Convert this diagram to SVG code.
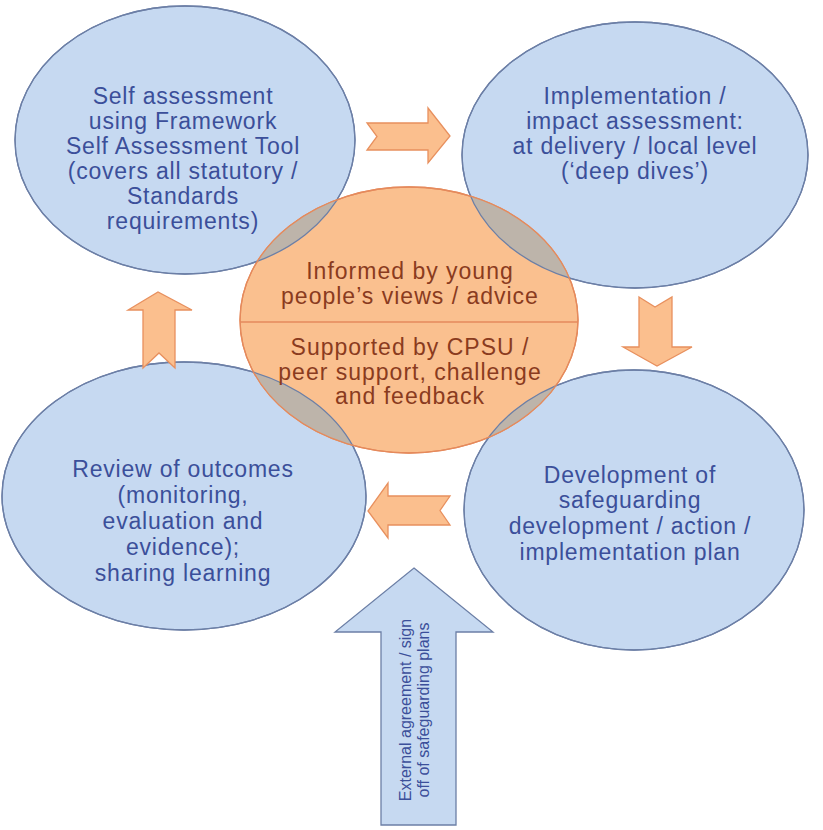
<svg xmlns="http://www.w3.org/2000/svg" width="823" height="830" viewBox="0 0 823 830">
<defs>
<style>
.blue{fill:#c6d9f1;stroke:#6c7fa6;stroke-width:1.3}
.bline{fill:none;stroke:#6c7fa6;stroke-width:1.3}
.gray{fill:#bdb4aa;stroke:none}
.orange{fill:#fac08f;stroke:#e58a5c;stroke-width:1.3}
.arrow{fill:#fbbf8e;stroke:#e8905e;stroke-width:1.3;stroke-linejoin:miter}
.bigarrow{fill:#c6d9f1;stroke:#6c7fa6;stroke-width:1.3}
.bt{font-family:"Liberation Sans",Arial,sans-serif;font-size:23px;letter-spacing:0.8px;fill:#3b4f9a;text-anchor:middle}
.ot{font-family:"Liberation Sans",Arial,sans-serif;font-size:23px;letter-spacing:1px;fill:#8a3b1e;text-anchor:middle}
.st{font-family:"Liberation Sans",Arial,sans-serif;font-size:16px;fill:#3b4f9a;text-anchor:middle}
</style>
<clipPath id="oc"><ellipse cx="409" cy="320" rx="169" ry="133"/></clipPath>
</defs>
<rect width="823" height="830" fill="#ffffff"/>
<g id="node-self-assessment"><ellipse class="blue" cx="185" cy="140" rx="170" ry="134"/></g>
<g id="node-implementation"><ellipse class="blue" cx="635" cy="155" rx="173" ry="133"/></g>
<g id="node-review"><ellipse class="blue" cx="184" cy="496" rx="182" ry="134"/></g>
<g id="node-development"><ellipse class="blue" cx="634" cy="510" rx="170" ry="140"/></g>
<g id="node-centre">
<ellipse class="orange" cx="409" cy="320" rx="169" ry="133"/>
<g clip-path="url(#oc)">
<ellipse class="gray" cx="185" cy="140" rx="170" ry="134"/>
<ellipse class="gray" cx="635" cy="155" rx="173" ry="133"/>
<ellipse class="gray" cx="184" cy="496" rx="182" ry="134"/>
<ellipse class="gray" cx="634" cy="510" rx="170" ry="140"/>
</g>
<ellipse class="bline" cx="185" cy="140" rx="170" ry="134"/>
<ellipse class="bline" cx="635" cy="155" rx="173" ry="133"/>
<ellipse class="bline" cx="184" cy="496" rx="182" ry="134"/>
<ellipse class="bline" cx="634" cy="510" rx="170" ry="140"/>
<ellipse cx="409" cy="320" rx="169" ry="133" fill="none" stroke="#e58a5c" stroke-width="1.3"/>
<line x1="240" y1="322" x2="578" y2="322" stroke="#e58a5c" stroke-width="1.3"/>
<text class="ot" x="410" y="279">Informed by young</text>
<text class="ot" x="410" y="304">people’s views / advice</text>
<text class="ot" x="410" y="355">Supported by CPSU /</text>
<text class="ot" x="410" y="380">peer support, challenge</text>
<text class="ot" x="410" y="404">and feedback</text>
</g>
<g id="labels">
<text class="bt" x="183" y="104">Self assessment</text>
<text class="bt" x="183" y="129">using Framework</text>
<text class="bt" x="183" y="154">Self Assessment Tool</text>
<text class="bt" x="183" y="179">(covers all statutory /</text>
<text class="bt" x="183" y="204">Standards</text>
<text class="bt" x="183" y="229">requirements)</text>
<text class="bt" x="635" y="104">Implementation /</text>
<text class="bt" x="635" y="129">impact assessment:</text>
<text class="bt" x="635" y="154">at delivery / local level</text>
<text class="bt" x="635" y="179">(‘deep dives’)</text>
<text class="bt" x="183" y="477">Review of outcomes</text>
<text class="bt" x="183" y="503">(monitoring,</text>
<text class="bt" x="183" y="529">evaluation and</text>
<text class="bt" x="183" y="555">evidence);</text>
<text class="bt" x="183" y="581">sharing learning</text>
<text class="bt" x="630" y="483">Development of</text>
<text class="bt" x="630" y="508">safeguarding</text>
<text class="bt" x="630" y="534">development / action /</text>
<text class="bt" x="630" y="560">implementation plan</text>
</g>
<g id="connectors">
<polygon class="arrow" points="367,123 428,123 428,108 450,136 428,163 428,150 367,150 377,136.5"/>
<polygon class="arrow" points="639,297 655,307 672,297 672,347 692,347 657,366 623,347 639,347"/>
<polygon class="arrow" points="450,496 388,496 388,483 368,511 388,538 388,525 450,525 440,510.5"/>
<polygon class="arrow" points="143,368 159,353 175,368 175,310 192,310 158,292 128,310 143,310"/>
<polygon class="bigarrow" points="414,568 493,632 456,632 456,825 381,825 381,632 335,632"/>
<text class="st" transform="translate(411,710) rotate(-90)">External agreement / sign</text>
<text class="st" transform="translate(429,710) rotate(-90)">off of safeguarding plans</text>
</g>
</svg>
